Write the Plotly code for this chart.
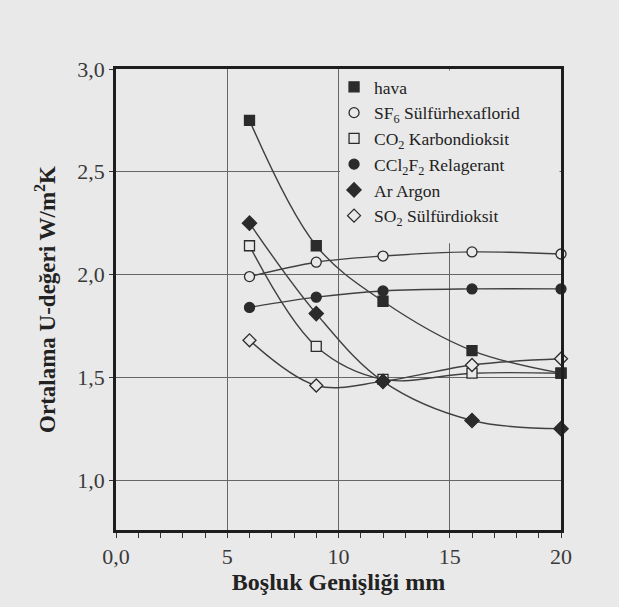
import plotly.graph_objects as go

# ---- data ----
gap_mm = [6, 9, 12, 16, 20]
hava = [2.75, 2.14, 1.87, 1.63, 1.52]
sf6 = [1.99, 2.06, 2.09, 2.11, 2.10]
co2 = [2.14, 1.65, 1.49, 1.52, 1.52]
ccl2f2 = [1.84, 1.89, 1.92, 1.93, 1.93]
argon = [2.25, 1.81, 1.48, 1.29, 1.25]
so2 = [1.68, 1.46, 1.48, 1.56, 1.59]

series_names = [
    "hava",
    "SF<sub>6</sub> Sülfürhexaflorid",
    "CO<sub>2</sub> Karbondioksit",
    "CCl<sub>2</sub>F<sub>2</sub> Relagerant",
    "Ar Argon",
    "SO<sub>2</sub> Sülfürdioksit",
]
series_values = [hava, sf6, co2, ccl2f2, argon, so2]

x_tick_vals = [0, 5, 10, 15, 20]
x_tick_text = ["0,0", "5", "10", "15", "20"]
y_tick_vals = [1.0, 1.5, 2.0, 2.5, 3.0]
y_tick_text = ["1,0", "1,5", "2,0", "2,5", "3,0"]

BG = "#e9e9e9"
INK = "#2b2b2b"
LINE = "#404040"
SERIF = "Liberation Serif"

# marker styles: (symbol, filled?, size)
styles = [
    ("square", True, 10),
    ("circle", False, 10),
    ("square", False, 10),
    ("circle", True, 10),
    ("diamond", True, 11),
    ("diamond", False, 10),
]

fig = go.Figure()

# curves first (no legend)
for name, vals in zip(series_names, series_values):
    fig.add_trace(go.Scatter(
        x=gap_mm, y=vals, mode="lines",
        line=dict(color=LINE, width=1.4, shape="spline", smoothing=1.0),
        showlegend=False, hoverinfo="skip",
    ))

# markers: draw order so that hidden points sit underneath
draw_order = [2, 5, 1, 3, 4, 0]
for i in draw_order:
    sym, filled, size = styles[i]
    fig.add_trace(go.Scatter(
        x=gap_mm, y=series_values[i], mode="markers",
        name=series_names[i], legendrank=i + 1,
        marker=dict(symbol=sym, size=size,
                    color=INK if filled else BG,
                    line=dict(color=INK, width=1.3)),
        cliponaxis=False,
    ))

# legend panel: background-coloured block in the upper right of the plot area
fig.add_shape(
    type="rect", xref="paper", yref="paper",
    x0=0.5034, x1=0.9966, y0=0.622, y1=0.9967,
    fillcolor=BG, line=dict(width=0), layer="above",
)

fig.update_layout(
    width=619, height=607,
    margin=dict(l=116, r=58, t=69, b=77),
    paper_bgcolor=BG, plot_bgcolor=BG,
    font=dict(family=SERIF, color=INK, size=20),
    legend=dict(
        x=0.49, y=1.0, xanchor="left", yanchor="top",
        bgcolor="rgba(0,0,0,0)", borderwidth=0,
        font=dict(family=SERIF, size=17.5, color="#222"),
        itemsizing="trace",
    ),
    showlegend=True,
)

fig.update_xaxes(
    range=[0, 20],
    tickvals=x_tick_vals, ticktext=x_tick_text,
    ticks="outside", ticklen=5, tickwidth=1.2, tickcolor="#333",
    minor=dict(dtick=1, ticks="outside", ticklen=5, tickwidth=1.2,
               tickcolor="#333", showgrid=False),
    showgrid=True, gridcolor="#666666", gridwidth=1,
    showline=True, linecolor="#1e1e1e", linewidth=2.5, mirror=True,
    zeroline=False,
    tickfont=dict(family=SERIF, size=22, color="#3a3a3a"),
    title=dict(text="<b>Boşluk Genişliği mm</b>",
               font=dict(family=SERIF, size=24, color="#222"), standoff=2),
)
fig.update_yaxes(
    range=[0.757, 3.0],
    tickvals=y_tick_vals, ticktext=y_tick_text,
    ticks="outside", ticklen=4, tickwidth=1.2, tickcolor="#333",
    showgrid=True, gridcolor="#666666", gridwidth=1,
    showline=True, linecolor="#1e1e1e", linewidth=2.5, mirror=True,
    zeroline=False,
    tickfont=dict(family=SERIF, size=22, color="#3a3a3a"),
    title=dict(text="<b>Ortalama U-değeri W/m<sup>2</sup>K</b>",
               font=dict(family=SERIF, size=23, color="#222"), standoff=16),
)

fig.write_html(
    "out.html",
    config={"displayModeBar": False},
    post_script="document.body.style.margin='0';"
                "document.body.style.backgroundColor='#e9e9e9';",
)
